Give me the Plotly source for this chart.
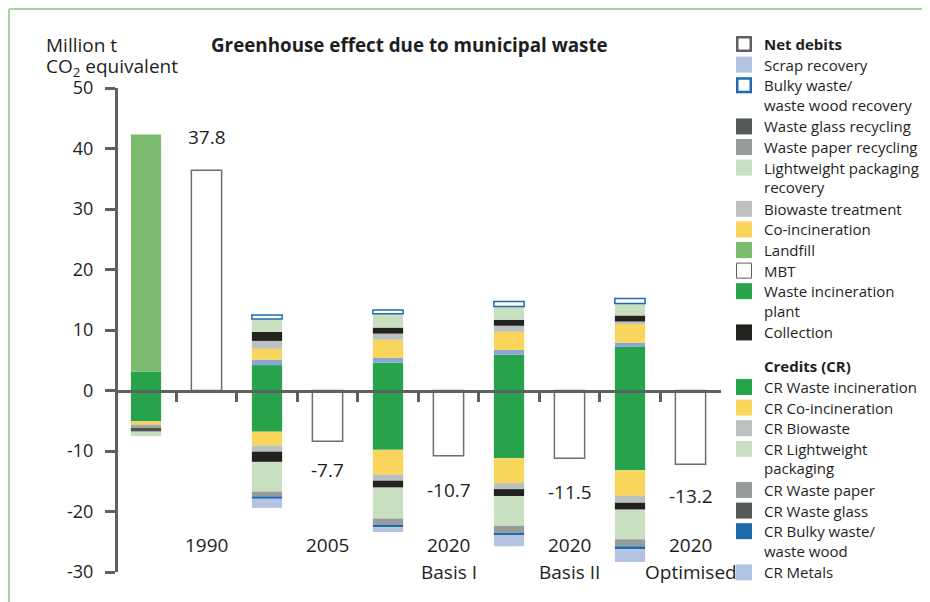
import plotly.graph_objects as go

# ---------------- data ----------------
scenarios = ["1990", "2005", "2020", "2020", "2020"]
scenario_sub = ["", "", "Basis I", "Basis II", "Optimised"]
net_labels = ["37.8", "-7.7", "-10.7", "-11.5", "-13.2"]
net_label_y = [41.9, -13.1, -16.4, -16.7, -17.4]
net_values = [36.4, -8.4, -10.8, -11.2, -12.2]

# debits (stacked upward, bottom to top)
waste_incineration_plant = [3.1, 4.2, 4.6, 5.9, 7.2]
landfill = [39.2, None, None, None, None]
scrap_recovery = [None, 0.9, 0.8, 0.8, 0.7]
co_incineration = [None, 1.8, 3.0, 3.0, 3.1]
biowaste_treatment = [None, 1.3, 1.0, 1.0, 0.4]
collection = [None, 1.5, 1.0, 1.0, 1.0]
lightweight_packaging = [None, 2.1, 2.3, 2.2, 2.0]
bulky_waste = [None, 0.7, 0.6, 0.8, 0.8]

# credits (stacked downward, top to bottom)
cr_waste_incineration = [-5.1, -6.8, -9.8, -11.2, -13.2]
cr_co_incineration = [-0.55, -2.3, -4.1, -4.1, -4.2]
cr_biowaste = [-0.5, -1.0, -1.0, -1.0, -1.15]
cr_waste_glass = [-0.65, -1.7, -1.15, -1.15, -1.15]
cr_lightweight = [-0.75, -4.9, -5.1, -4.9, -4.9]
cr_waste_paper = [None, -0.8, -1.15, -1.3, -1.15]
cr_bulky = [None, -0.4, -0.3, -0.3, -0.5]
cr_metals = [None, -1.5, -0.8, -1.8, -2.1]

y_ticks = [-30, -20, -10, 0, 10, 20, 30, 40, 50]

debit_legend = [
    "<b>Net debits</b>", "Scrap recovery", "Bulky waste/<br>waste wood recovery",
    "Waste glass recycling", "Waste paper recycling",
    "Lightweight packaging<br>recovery", "Biowaste treatment", "Co-incineration",
    "Landfill", "MBT", "Waste incineration<br>plant", "Collection",
]
credit_title = "<b>Credits (CR)</b>"
credit_legend = [
    "CR Waste incineration", "CR Co-incineration", "CR Biowaste",
    "CR Lightweight<br>packaging", "CR Waste paper", "CR Waste glass",
    "CR Bulky waste/<br>waste wood", "CR Metals",
]

# ---------------- styling ----------------
AXIS = "#5d6260"
TXT = "#1e1e1e"
FONT = "Open Sans"
C = {
    "wip": "#27a34b", "landfill": "#7cba6e", "lwp": "#c8e0c0",
    "yellow": "#f9d55b", "bio": "#bcc0c0", "black": "#22231f",
    "paper": "#979b9b", "glass": "#555a58", "bulky": "#1f6aad",
    "metals": "#b3c4e2", "scrap_bar": "#8aa6d2",
}
# (fill, border colour, border width) for each legend swatch
debit_swatch = [
    ("white", AXIS, 2.5), (C["metals"], None, 0), ("white", C["bulky"], 2.5),
    (C["glass"], None, 0), (C["paper"], None, 0), (C["lwp"], None, 0),
    (C["bio"], None, 0), (C["yellow"], None, 0), (C["landfill"], None, 0),
    ("white", AXIS, 1), (C["wip"], None, 0), (C["black"], None, 0),
]
credit_swatch = [
    (C["wip"], None, 0), (C["yellow"], None, 0), (C["bio"], None, 0),
    (C["lwp"], None, 0), (C["paper"], None, 0), (C["glass"], None, 0),
    (C["bulky"], None, 0), (C["metals"], None, 0),
]

n = len(scenarios)
stack_x = [2 * i for i in range(n)]
net_x = [2 * i + 1 for i in range(n)]
BW = 0.5

# ---------------- geometry (reference pixels, page has an 8px body margin) ----------------
OFF = 8
W, H = 930 - OFF, 602 - OFF
L, R, T, B = 118 - OFF, 721 - OFF, 88 - OFF, 572 - OFF
SLOT = 60.5
X0 = 146 - OFF  # pixel centre of first slot


def pxx(xp):
    return (xp - OFF - L) / (R - L)


def pxy(yp):
    return (B - (yp - OFF)) / (B - T)


x_range = [(L - X0) / SLOT, (R - X0) / SLOT]

fig = go.Figure()


def add_bar(vals, color, x=stack_x, line_color=None, line_width=0):
    fig.add_trace(go.Bar(
        x=x, y=vals, width=BW, showlegend=False, hoverinfo="skip",
        marker=dict(color=color,
                    line=dict(color=line_color or "rgba(0,0,0,0)", width=line_width)),
    ))


add_bar(waste_incineration_plant, C["wip"])
add_bar(landfill, C["landfill"])
add_bar(scrap_recovery, C["scrap_bar"])
add_bar(co_incineration, C["yellow"])
add_bar(biowaste_treatment, C["bio"])
add_bar(collection, C["black"])
add_bar(lightweight_packaging, C["lwp"])
add_bar(bulky_waste, "white", line_color=C["bulky"], line_width=1.5)

add_bar(cr_waste_incineration, C["wip"])
add_bar(cr_co_incineration, C["yellow"])
add_bar(cr_biowaste, ["#a3a7a6"] + [C["bio"]] * (n - 1))
add_bar(cr_waste_glass, ["#4f5451"] + [C["black"]] * (n - 1))
add_bar(cr_lightweight, C["lwp"])
add_bar(cr_waste_paper, C["paper"])
add_bar(cr_bulky, C["bulky"])
add_bar(cr_metals, C["metals"])

add_bar(net_values, "white", x=net_x, line_color="#6b6f6d", line_width=1.5)

annotations = [
    dict(text="<b>Greenhouse effect due to municipal waste</b>", x=pxx(409), y=pxy(45),
         xref="paper", yref="paper", showarrow=False, xanchor="center", yanchor="middle",
         font=dict(size=18.8, color=TXT, family=FONT)),
    dict(text="Million t", x=pxx(44), y=pxy(45), xref="paper", yref="paper",
         showarrow=False, xanchor="left", yanchor="middle",
         font=dict(size=19, color=TXT, family=FONT)),
    dict(text="CO<sub>2</sub> equivalent", x=pxx(44), y=pxy(67), xref="paper", yref="paper",
         showarrow=False, xanchor="left", yanchor="middle",
         font=dict(size=19, color=TXT, family=FONT)),
]
for i in range(n):
    annotations.append(dict(text=net_labels[i], x=net_x[i], y=net_label_y[i], showarrow=False,
                            xanchor="center", yanchor="middle",
                            font=dict(size=19, color=TXT, family=FONT)))
    annotations.append(dict(text=scenarios[i], x=net_x[i], y=-25.5, showarrow=False,
                            xanchor="center", yanchor="middle",
                            font=dict(size=19, color=TXT, family=FONT)))
    if scenario_sub[i]:
        annotations.append(dict(text=scenario_sub[i], x=net_x[i], y=-30, showarrow=False,
                                xanchor="center", yanchor="middle",
                                font=dict(size=19, color=TXT, family=FONT)))

FRAME = "#a5d59b"
shapes = [
    dict(type="line", xref="paper", yref="paper", x0=pxx(9), x1=pxx(9),
         y0=pxy(9), y1=pxy(640), line=dict(color=FRAME, width=2)),
    dict(type="line", xref="paper", yref="paper", x0=pxx(9), x1=pxx(960),
         y0=pxy(9), y1=pxy(9), line=dict(color=FRAME, width=2)),
]

# ---------------- hand-built legend ----------------
LEG_Y0, PITCH, GROUP_GAP = 44, 20.6, 0.65
SW_X0, SW = 736, 16
TEXT_X = 762
LEG_FONT = dict(size=15, color=TXT, family=FONT)


def legend_entry(line_idx, label, swatch):
    yc = LEG_Y0 + PITCH * line_idx
    if swatch is not None:
        fill, lc, lw = swatch
        inset = lw / 2
        shapes.append(dict(
            type="rect", xref="paper", yref="paper",
            x0=pxx(SW_X0 + inset), x1=pxx(SW_X0 + SW - inset),
            y0=pxy(yc - SW / 2 + inset), y1=pxy(yc + SW / 2 - inset),
            fillcolor=fill, line=dict(color=lc or fill, width=lw if lw else 0),
            layer="above",
        ))
    lines = label.split("<br>")
    for j, ln in enumerate(lines):
        annotations.append(dict(
            text=ln, x=pxx(TEXT_X), y=pxy(yc + PITCH * j * 0.955), xref="paper", yref="paper",
            showarrow=False, xanchor="left", yanchor="middle", font=LEG_FONT,
        ))
    return len(lines)


k = 0
for lab, sw in zip(debit_legend, debit_swatch):
    k += legend_entry(k, lab, sw)
k += GROUP_GAP
k += legend_entry(k, credit_title, None)
for lab, sw in zip(credit_legend, credit_swatch):
    k += legend_entry(k, lab, sw)

fig.update_layout(
    width=W, height=H,
    margin=dict(l=L, r=W - R, t=T, b=H - B, pad=0),
    paper_bgcolor="white", plot_bgcolor="white",
    barmode="relative",
    font=dict(family=FONT, color=TXT, size=15),
    showlegend=False,
    xaxis=dict(
        range=x_range, anchor="free", position=30 / 80,
        showline=True, linecolor=AXIS, linewidth=3,
        ticks="outside", tickvals=[i + 0.5 for i in range(2 * n - 1)],
        ticklen=9, tickwidth=2.5, tickcolor=AXIS,
        showticklabels=False, showgrid=False, zeroline=False, fixedrange=True,
    ),
    yaxis=dict(
        range=[-30, 50], tickvals=y_ticks, ticktext=[str(v) for v in y_ticks],
        showline=True, linecolor=AXIS, linewidth=3,
        ticks="outside", ticklen=10, tickwidth=2.5, tickcolor=AXIS,
        ticklabelstandoff=8,
        tickfont=dict(size=18, color=TXT, family=FONT),
        showgrid=False, zeroline=False, fixedrange=True,
    ),
    annotations=annotations,
    shapes=shapes,
)

fig.write_html("out.html")
